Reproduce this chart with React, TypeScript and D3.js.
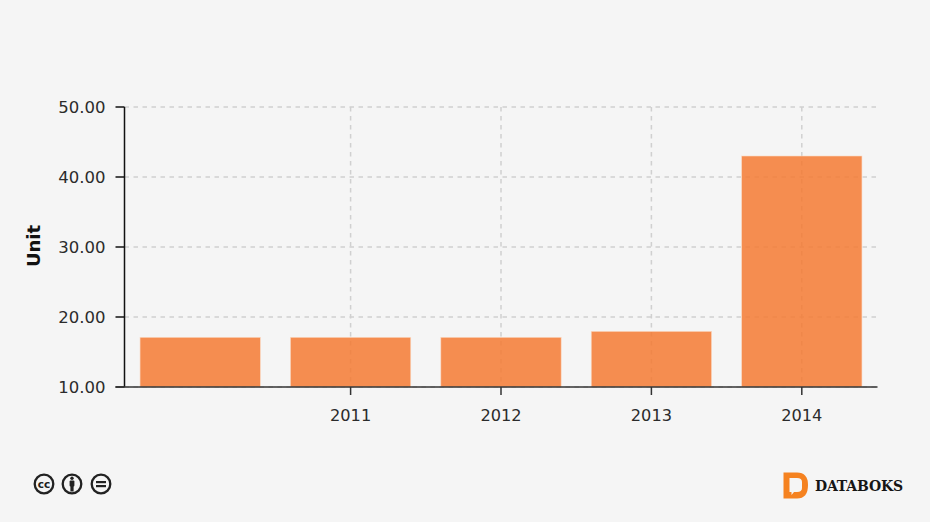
import React from "react";
import * as d3 from "d3";

const categories = ["2010", "2011", "2012", "2013", "2014"];
const tickLabels = ["", "2011", "2012", "2013", "2014"];
const values = [17.1, 17.1, 17.1, 17.95, 43];
const yTicks = [10, 20, 30, 40, 50];

const W = 930, H = 522;
const L = 124.5, R = 876.5, T = 107, B = 387;
const FONT = "'DejaVu Sans', Verdana, sans-serif";
const TEXT = "#2b2b2b";

export default function App() {
  const x = d3.scaleBand<string>().domain(categories).range([L + 0.5, R + 0.5]).paddingInner(0.2).paddingOuter(0.1);
  const y = d3.scaleLinear().domain([10, 50]).range([B, T]);
  const fmt = d3.format(".2f");
  const cx = (c: string) => (x(c) as number) + x.bandwidth() / 2;
  return (
    <svg width={W} height={H} style={{ position: "fixed", left: 0, top: 0, background: "#f5f5f5" }} fontFamily={FONT}>
      <g stroke="#d0d0d0" strokeWidth={1.5} strokeDasharray="4.5 4.5">
        {yTicks.map((t) => <line key={t} x1={L} x2={R} y1={y(t)} y2={y(t)} />)}
        {categories.slice(1).map((c) => <line key={c} x1={cx(c)} x2={cx(c)} y1={T} y2={B} />)}
      </g>
      <g>
        {categories.map((c, i) => (
          <rect key={c} x={x(c)} y={y(values[i])} width={x.bandwidth()} height={B - y(values[i])}
            fill="#f57a33" fillOpacity={0.85} stroke="#fbd9c3" strokeWidth={0.6} />
        ))}
      </g>
      <g stroke="#111" strokeWidth={1.5}>
        <line x1={L} x2={L} y1={T} y2={B} />
        {yTicks.map((t) => <line key={t} x1={L - 9} x2={L} y1={y(t)} y2={y(t)} />)}
      </g>
      <g stroke="#333" strokeWidth={1.5}>
        <line x1={L - 9} x2={R + 1} y1={B} y2={B} />
        {categories.slice(1).map((c) => <line key={c} x1={cx(c)} x2={cx(c)} y1={B} y2={B + 8} />)}
      </g>
      <g fontSize={16.5} fill={TEXT} textAnchor="end">
        {yTicks.map((t) => <text key={t} x={105.5} y={y(t) + 6}>{fmt(t)}</text>)}
      </g>
      <g fontSize={16.2} fill={TEXT} textAnchor="middle">
        {categories.map((c, i) => tickLabels[i] ? <text key={c} x={cx(c)} y={421}>{tickLabels[i]}</text> : null)}
      </g>
      <text transform="translate(39.5,246) rotate(-90)" textAnchor="middle" fontSize={18} fontWeight={700} fill="#111">Unit</text>

      {/* licence badges */}
      <g fill="none" stroke="#222" strokeWidth={2.3}>
        <circle cx={44} cy={484} r={9.3} />
        <circle cx={72} cy={484} r={9.3} />
        <circle cx={101} cy={484} r={9.3} />
      </g>
      <text x={44} y={487.5} textAnchor="middle" fontSize={10.5} fontWeight={700} fill="#222">cc</text>
      <g fill="#222">
        <circle cx={72} cy={478.3} r={1.7} />
        <rect x={69.6} y={480.5} width={4.8} height={6} rx={1} />
        <rect x={70.4} y={486} width={3.2} height={5.5} />
        <rect x={96} y={481} width={10} height={2.2} />
        <rect x={96} y={485} width={10} height={2.2} />
      </g>

      {/* logo */}
      <path d="M783.5 472.5 H797 Q808 472.5 808 485 Q808 498.5 797 498.5 H783.5 Z" fill="#f58220" />
      <path d="M789.5 478 H797 Q802 478 802 482 V488 Q802 492 797 492 H794 L791.5 495 V492 H789.5 Z" fill="#f5f5f5" />
      <text x={815} y={491} fontFamily="'DejaVu Serif', serif" fontWeight={700} fontSize={14} fill="#161616" textLength={88}>DATABOKS</text>
    </svg>
  );
}
